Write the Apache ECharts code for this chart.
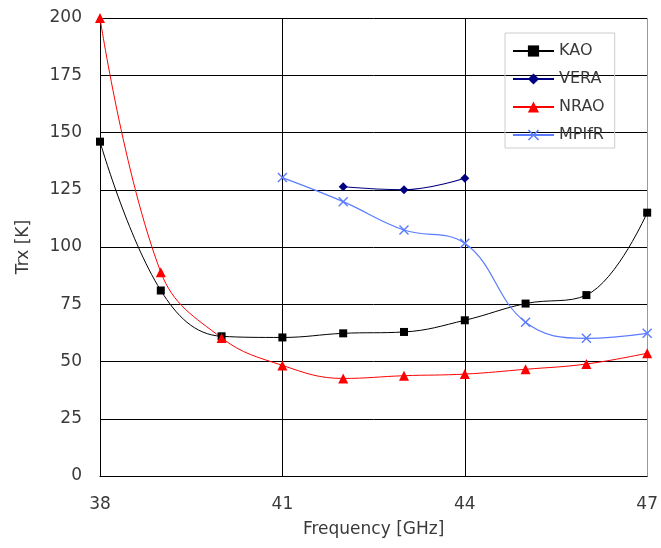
<!DOCTYPE html>
<html><head><meta charset="utf-8">
<script src="https://cdn.jsdelivr.net/npm/echarts@6/dist/echarts.min.js"></script>
<style>html,body{margin:0;padding:0;background:#fff}#c{width:661px;height:548px}</style>
</head><body><div id="c"></div>
<script>
var freqs = [38, 39, 40, 41, 42, 43, 44, 45, 46, 47];
var kao = [146, 81, 61, 60.5, 62.3, 62.9, 68, 75.3, 79, 115];
var veraFreq = [42, 43, 44];
var vera = [126.3, 125, 130];
var nrao = [200, 89, 60.3, 48.3, 42.6, 43.8, 44.5, 46.6, 48.9, 53.6];
var mpifrFreq = [41, 42, 43, 44, 45, 46, 47];
var mpifr = [130.3, 119.8, 107.4, 101.6, 67.1, 60.1, 62.3];
var xTicks = [38, 41, 44, 47];
var yTicks = [0, 25, 50, 75, 100, 125, 150, 175, 200];

function pairs(xs, ys){ return xs.map(function(x,i){return [x, ys[i]];}); }
var xPath = 'path://M0,1 L1,0 L5,4 L9,0 L10,1 L6,5 L10,9 L9,10 L5,6 L1,10 L0,9 L4,5 Z';
var font = 'DejaVu Sans';
var txt = '#3a3a3a';
var chart = echarts.init(document.getElementById('c'));
chart.setOption({
  animation: false,
  textStyle: {fontFamily: font},
  grid: {left: 100, right: 11, top: 18, bottom: 72},
  legend: {
    orient: 'vertical', left: 505, top: 33,
    itemWidth: 41, itemHeight: 14, itemGap: 12,
    padding: [10, 10, 5, 7],
    borderColor: '#cccccc', borderWidth: 1,
    textStyle: {fontSize: 16, color: txt, fontFamily: font},
    data: ['KAO', 'VERA', 'NRAO', 'MPIfR']
  },
  xAxis: {
    type: 'value', min: 38, max: 47, interval: 3,
    name: 'Frequency [GHz]', nameLocation: 'middle', nameGap: 45,
    nameTextStyle: {fontSize: 17, color: txt},
    axisLine: {lineStyle: {color: '#000'}},
    axisTick: {show: false},
    axisLabel: {fontSize: 17, color: txt, margin: 20,
      formatter: function(v){ return xTicks.indexOf(v) >= 0 ? String(v) : ''; }},
    splitLine: {show: true, lineStyle: {color: ['#000', '#000', '#000', '#999'], width: 1}}
  },
  yAxis: {
    type: 'value', min: 0, max: 200, interval: 25,
    name: 'Trx [K]', nameLocation: 'middle', nameGap: 68,
    nameTextStyle: {fontSize: 17, color: txt},
    axisLine: {show: true, lineStyle: {color: '#000'}},
    axisTick: {show: false},
    axisLabel: {fontSize: 17, color: txt, margin: 18,
      formatter: function(v){ return yTicks.indexOf(v) >= 0 ? String(v) : ''; }},
    splitLine: {show: true, lineStyle: {color: '#000', width: 1}}
  },
  series: [
    {name: 'KAO', type: 'line', smooth: 0.4, data: pairs(freqs, kao),
     symbol: 'rect', symbolSize: 8, color: '#000',
     lineStyle: {width: 1, color: '#000'}, itemStyle: {color: '#000'}},
    {name: 'VERA', type: 'line', smooth: 0.4, data: pairs(veraFreq, vera),
     symbol: 'diamond', symbolSize: 9, color: '#000080',
     lineStyle: {width: 1.2, color: '#000080'}, itemStyle: {color: '#000080'}},
    {name: 'NRAO', type: 'line', smooth: 0.4, data: pairs(freqs, nrao),
     symbol: 'triangle', symbolSize: 10, color: '#ff0000',
     lineStyle: {width: 1, color: '#ff0000'}, itemStyle: {color: '#ff0000'}},
    {name: 'MPIfR', type: 'line', smooth: 0.4, data: pairs(mpifrFreq, mpifr),
     symbol: xPath, symbolSize: 10, color: '#5b7cff',
     lineStyle: {width: 1.2, color: '#5b7cff'}, itemStyle: {color: '#5b7cff'}}
  ]
});
</script></body></html>
